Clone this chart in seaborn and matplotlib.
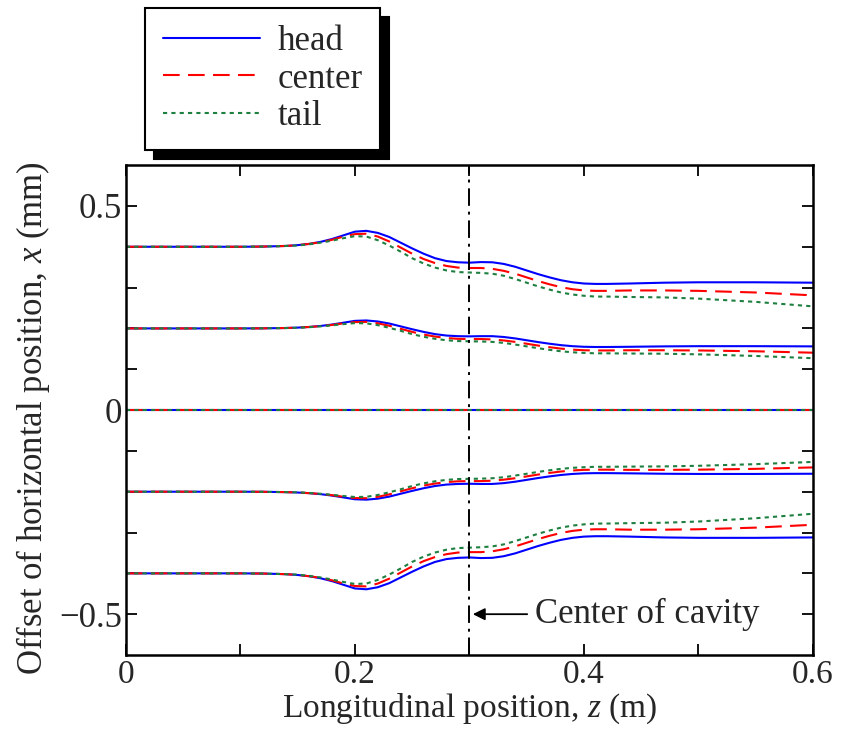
import numpy as np
import pandas as pd
import matplotlib
matplotlib.use("Agg")
import matplotlib.pyplot as plt
import seaborn as sns

# ---- data ----
z = [0.0, 0.1, 0.12, 0.14,
     0.15, 0.16, 0.17, 0.18, 0.19, 0.20, 0.21, 0.22, 0.23, 0.24,
     0.25, 0.26, 0.27, 0.28, 0.29, 0.30, 0.31, 0.32, 0.33, 0.34,
     0.35, 0.36, 0.37, 0.38, 0.39, 0.40, 0.41, 0.42,
     0.44, 0.47, 0.5, 0.55, 0.6]

head_p04 = [0.4, 0.4, 0.4005, 0.402,
            0.404, 0.407, 0.412, 0.419, 0.428, 0.437, 0.439, 0.434, 0.424, 0.410,
            0.396, 0.383, 0.372, 0.365, 0.362, 0.361, 0.3625, 0.362, 0.358, 0.351,
            0.342, 0.333, 0.325, 0.318, 0.313, 0.310, 0.309, 0.309,
            0.310, 0.312, 0.313, 0.313, 0.312]
center_p04 = [0.4, 0.4, 0.4005, 0.402,
              0.404, 0.407, 0.411, 0.417, 0.425, 0.431, 0.432, 0.425, 0.413, 0.398,
              0.383, 0.370, 0.360, 0.353, 0.349, 0.348, 0.348, 0.346, 0.341, 0.334,
              0.325, 0.316, 0.308, 0.301, 0.296, 0.293, 0.292, 0.292,
              0.293, 0.293, 0.292, 0.288, 0.281]
tail_p04 = [0.4, 0.4, 0.4005, 0.402,
            0.403, 0.406, 0.410, 0.415, 0.421, 0.426, 0.425, 0.416, 0.403, 0.388,
            0.372, 0.359, 0.349, 0.342, 0.338, 0.337, 0.336, 0.334, 0.329, 0.321,
            0.312, 0.303, 0.295, 0.288, 0.283, 0.280, 0.278, 0.278,
            0.277, 0.276, 0.273, 0.265, 0.254]

head_p02 = [0.2, 0.2, 0.20025, 0.201,
            0.202, 0.2035, 0.206, 0.2095, 0.214, 0.2185, 0.2195, 0.217, 0.212, 0.205,
            0.198, 0.1915, 0.186, 0.1825, 0.181, 0.1805, 0.181, 0.181, 0.179, 0.1755,
            0.171, 0.1665, 0.1625, 0.159, 0.1565, 0.155, 0.1545, 0.1545,
            0.155, 0.156, 0.1565, 0.1565, 0.156]
center_p02 = [0.2, 0.2, 0.20025, 0.201,
              0.202, 0.2035, 0.2055, 0.2085, 0.2125, 0.2155, 0.216, 0.2125, 0.2065, 0.199,
              0.1915, 0.185, 0.180, 0.1765, 0.1745, 0.174, 0.174, 0.173, 0.1705, 0.167,
              0.1625, 0.158, 0.154, 0.1505, 0.148, 0.1465, 0.146, 0.146,
              0.1465, 0.1465, 0.146, 0.144, 0.1405]
tail_p02 = [0.2, 0.2, 0.20025, 0.201,
            0.2015, 0.203, 0.205, 0.2075, 0.2105, 0.213, 0.2125, 0.208, 0.2015, 0.194,
            0.186, 0.1795, 0.1745, 0.171, 0.169, 0.1685, 0.168, 0.167, 0.1645, 0.1605,
            0.156, 0.1515, 0.1475, 0.144, 0.1415, 0.140, 0.139, 0.139,
            0.1385, 0.138, 0.1365, 0.1325, 0.127]

zero_line = [0.0, 0.0, 0.0, 0.0,
             0.0, 0.0, 0.0, 0.0, 0.0, 0.0, 0.0, 0.0, 0.0, 0.0,
             0.0, 0.0, 0.0, 0.0, 0.0, 0.0, 0.0, 0.0, 0.0, 0.0,
             0.0, 0.0, 0.0, 0.0, 0.0, 0.0, 0.0, 0.0,
             0.0, 0.0, 0.0, 0.0, 0.0]

head_m02 = [-0.2, -0.2, -0.20025, -0.201,
            -0.202, -0.2035, -0.206, -0.2095, -0.214, -0.2185, -0.2195, -0.217, -0.212, -0.205,
            -0.198, -0.1915, -0.186, -0.1825, -0.181, -0.1805, -0.181, -0.181, -0.179, -0.1755,
            -0.171, -0.1665, -0.1625, -0.159, -0.1565, -0.155, -0.1545, -0.1545,
            -0.155, -0.156, -0.1565, -0.1565, -0.156]
center_m02 = [-0.2, -0.2, -0.20025, -0.201,
              -0.202, -0.2035, -0.2055, -0.2085, -0.2125, -0.2155, -0.216, -0.2125, -0.2065, -0.199,
              -0.1915, -0.185, -0.180, -0.1765, -0.1745, -0.174, -0.174, -0.173, -0.1705, -0.167,
              -0.1625, -0.158, -0.154, -0.1505, -0.148, -0.1465, -0.146, -0.146,
              -0.1465, -0.1465, -0.146, -0.144, -0.1405]
tail_m02 = [-0.2, -0.2, -0.20025, -0.201,
            -0.2015, -0.203, -0.205, -0.2075, -0.2105, -0.213, -0.2125, -0.208, -0.2015, -0.194,
            -0.186, -0.1795, -0.1745, -0.171, -0.169, -0.1685, -0.168, -0.167, -0.1645, -0.1605,
            -0.156, -0.1515, -0.1475, -0.144, -0.1415, -0.140, -0.139, -0.139,
            -0.1385, -0.138, -0.1365, -0.1325, -0.127]

head_m04 = [-0.4, -0.4, -0.4005, -0.402,
            -0.404, -0.407, -0.412, -0.419, -0.428, -0.437, -0.439, -0.434, -0.424, -0.410,
            -0.396, -0.383, -0.372, -0.365, -0.362, -0.361, -0.3625, -0.362, -0.358, -0.351,
            -0.342, -0.333, -0.325, -0.318, -0.313, -0.310, -0.309, -0.309,
            -0.310, -0.312, -0.313, -0.313, -0.312]
center_m04 = [-0.4, -0.4, -0.4005, -0.402,
              -0.404, -0.407, -0.411, -0.417, -0.425, -0.431, -0.432, -0.425, -0.413, -0.398,
              -0.383, -0.370, -0.360, -0.353, -0.349, -0.348, -0.348, -0.346, -0.341, -0.334,
              -0.325, -0.316, -0.308, -0.301, -0.296, -0.293, -0.292, -0.292,
              -0.293, -0.293, -0.292, -0.288, -0.281]
tail_m04 = [-0.4, -0.4, -0.4005, -0.402,
            -0.403, -0.406, -0.410, -0.415, -0.421, -0.426, -0.425, -0.416, -0.403, -0.388,
            -0.372, -0.359, -0.349, -0.342, -0.338, -0.337, -0.336, -0.334, -0.329, -0.321,
            -0.312, -0.303, -0.295, -0.288, -0.283, -0.280, -0.278, -0.278,
            -0.277, -0.276, -0.273, -0.265, -0.254]

particles = ["head", "center", "tail"]
cavity_center = 0.3
annotation_text = "Center of cavity"
x_ticks = [0, 0.2, 0.4, 0.6]
x_tick_labels = ["0", "0.2", "0.4", "0.6"]
y_ticks = [-0.5, 0, 0.5]
y_tick_labels = ["\u22120.5", "0", "0.5"]

groups = {
    "p04": {"head": head_p04, "center": center_p04, "tail": tail_p04},
    "p02": {"head": head_p02, "center": center_p02, "tail": tail_p02},
    "zero": {"head": zero_line, "center": zero_line, "tail": zero_line},
    "m02": {"head": head_m02, "center": center_m02, "tail": tail_m02},
    "m04": {"head": head_m04, "center": center_m04, "tail": tail_m04},
}

rows = []
for g, d in groups.items():
    for p in particles:
        for zi, xi in zip(z, d[p]):
            rows.append({"z": zi, "x": xi, "particle": p, "group": g})
df = pd.DataFrame(rows)

# ---- style ----
sns.set_theme(style="ticks")
plt.rcParams["font.family"] = ["Liberation Serif", "DejaVu Serif"]
plt.rcParams["mathtext.fontset"] = "custom"
plt.rcParams["mathtext.rm"] = "Liberation Serif"
plt.rcParams["mathtext.it"] = "Liberation Serif:italic"
plt.rcParams["axes.unicode_minus"] = True

FS = 25
FS_X = 24

fig = plt.figure(figsize=(8.45, 7.29), dpi=100)
ax = fig.add_axes([0.149, 0.1015, 0.813, 0.672])

palette = {"head": "#0000ff", "center": "#ff0000", "tail": "#1e8040"}
dashes = {"head": "", "center": (8, 4), "tail": (2, 2)}

sns.lineplot(data=df, x="z", y="x", hue="particle", style="particle",
             units="group", estimator=None, hue_order=particles, style_order=particles,
             palette=palette, dashes=dashes, linewidth=1.5, sort=False, ax=ax)

ax.axvline(cavity_center, color="black", lw=1.4, linestyle=(0, (9, 3, 1.5, 3)))

ax.annotate(annotation_text, xy=(cavity_center + 0.003, -0.5), xytext=(0.357, -0.5),
            fontsize=FS, va="center", ha="left",
            arrowprops=dict(arrowstyle="-|>", color="black", lw=1.3,
                            mutation_scale=18, shrinkA=3, shrinkB=0))

ax.set_xlim(0, 0.6)
ax.set_ylim(-0.6, 0.6)
ax.set_xticks(x_ticks)
ax.set_xticklabels(x_tick_labels)
ax.set_yticks(y_ticks)
ax.set_yticklabels(y_tick_labels)
ax.set_xticks([0.1, 0.3, 0.5], minor=True)
ax.set_yticks([-0.4, -0.3, -0.2, -0.1, 0.1, 0.2, 0.3, 0.4], minor=True)
for which in ("major", "minor"):
    ax.tick_params(axis="both", which=which, direction="in", length=8, width=1.3,
                   top=True, right=True, labelsize=FS, color="black")
ax.tick_params(axis="x", which="major", pad=3, labelsize=FS_X)
ax.tick_params(axis="y", which="major", pad=3)
for s in ax.spines.values():
    s.set_linewidth(1.8)
    s.set_color("black")

ax.set_xlabel("Longitudinal position, $z$ (m)", fontsize=FS_X, labelpad=1)
ax.set_ylabel("Offset of horizontal position, $x$ (mm)", fontsize=FS)
ax.yaxis.set_label_coords(-0.108, 0.484)

handles, labels = ax.get_legend_handles_labels()
if ax.get_legend() is not None:
    ax.get_legend().remove()
leg = ax.legend(handles, labels, loc="upper left", bbox_to_anchor=(0.172, 0.989),
                bbox_transform=fig.transFigure, borderaxespad=0, fancybox=False,
                frameon=True, fontsize=FS, handlelength=2.8, handletextpad=0.5,
                labelspacing=0.12, borderpad=0.5,
                shadow={"color": "black", "alpha": 1, "ox": 6.5, "oy": -6.5})
leg.get_frame().set_edgecolor("black")
leg.get_frame().set_linewidth(1.5)
for h in leg.get_lines():
    h.set_linewidth(1.5)

fig.savefig("out.png", dpi=100)
